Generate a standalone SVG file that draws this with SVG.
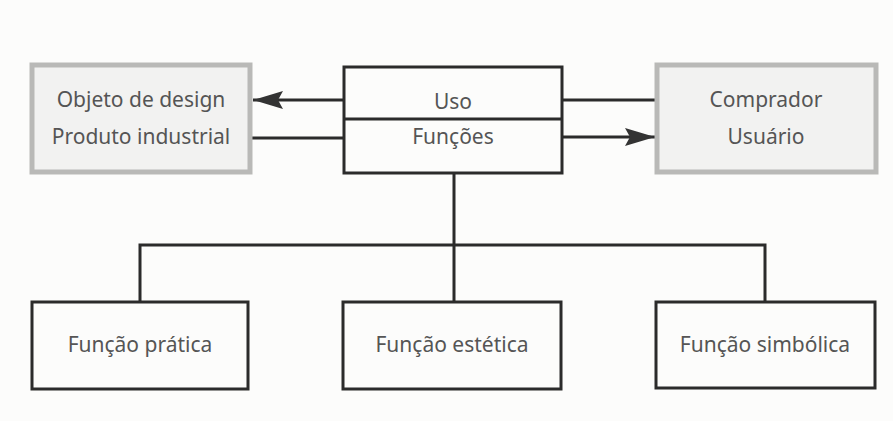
<svg xmlns="http://www.w3.org/2000/svg" width="893" height="421" viewBox="0 0 893 421">
<defs>
<style>
.bg{fill:#fcfcfb}
.gray{fill:#f2f2f1;stroke:#b9b9b7;stroke-width:5}
.box{fill:#fcfcfb;stroke:#2b2b2b;stroke-width:3}
.ln{fill:none;stroke:#2b2b2b;stroke-width:3}
text{font-family:"Noto Sans","Open Sans",sans-serif;font-size:21px;fill:#555;text-anchor:middle}
</style>
<marker id="ah" viewBox="0 0 30 18" refX="30" refY="9" markerWidth="30" markerHeight="18" markerUnits="userSpaceOnUse" orient="auto">
<path d="M0,0 L30,9 L0,18 L5,9 Z" fill="#333"/>
</marker>
</defs>
<rect class="bg" x="0" y="0" width="893" height="421"/>
<g id="connectors">
<line class="ln" x1="344" y1="100" x2="253" y2="100" marker-end="url(#ah)"/>
<line class="ln" x1="250" y1="138" x2="344" y2="138"/>
<line class="ln" x1="562" y1="100" x2="657" y2="100"/>
<line class="ln" x1="562" y1="137" x2="655" y2="137" marker-end="url(#ah)"/>
<line class="ln" x1="454" y1="173" x2="454" y2="302"/>
<polyline class="ln" points="140,302 140,245 765,245 765,302"/>
</g>
<g id="objeto">
<rect class="gray" x="32" y="65" width="218" height="107"/>
<text x="141" y="107">Objeto de design</text>
<text x="141" y="144">Produto industrial</text>
</g>
<g id="uso">
<rect class="box" x="344" y="67" width="218" height="106"/>
<line class="ln" x1="344" y1="119" x2="562" y2="119"/>
<text x="453" y="109">Uso</text>
<text x="453" y="144">Funções</text>
</g>
<g id="comprador">
<rect class="gray" x="657" y="65" width="219" height="107"/>
<text x="766" y="107">Comprador</text>
<text x="766" y="144">Usuário</text>
</g>
<g id="pratica">
<rect class="box" x="32" y="302" width="216" height="87"/>
<text x="140" y="352">Função prática</text>
</g>
<g id="estetica">
<rect class="box" x="343" y="302" width="218" height="87"/>
<text x="452" y="352">Função estética</text>
</g>
<g id="simbolica">
<rect class="box" x="656" y="302" width="219" height="86"/>
<text x="765" y="352">Função simbólica</text>
</g>
</svg>
